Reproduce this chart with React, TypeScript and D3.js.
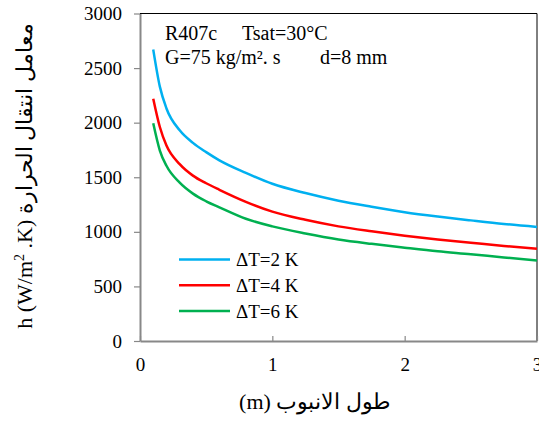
import { useEffect, useRef } from "react";
import * as d3 from "d3";

const lengths = [0.1, 0.15, 0.2, 0.3, 0.4, 0.5, 0.6, 0.8, 1.0, 1.25, 1.5, 1.75, 2.0, 2.25, 2.5, 2.75, 3.0];
const hDT2 = [2670, 2330, 2130, 1930, 1815, 1730, 1655, 1540, 1440, 1355, 1285, 1230, 1180, 1140, 1105, 1072, 1045];
const hDT4 = [2220, 1960, 1790, 1620, 1515, 1445, 1385, 1275, 1185, 1110, 1050, 1005, 965, 930, 900, 870, 845];
const hDT6 = [1995, 1745, 1605, 1450, 1350, 1280, 1225, 1120, 1050, 985, 930, 890, 855, 822, 795, 765, 738];
const seriesNames = ["ΔT=2 K", "ΔT=4 K", "ΔT=6 K"];
const seriesColors = ["#00B0F0", "#FF0000", "#00B050"];
const yTicks = [0, 500, 1000, 1500, 2000, 2500, 3000];
const xTicks = [0, 1, 2, 3];

const W = 539;
const H = 421;
const margin = { left: 140, right: 2, top: 13.5, bottom: 80 };
const font = "'Liberation Serif', 'Times New Roman', serif";

export default function App() {
  const svgRef = useRef<SVGSVGElement>(null);

  useEffect(() => {
    const svg = d3.select(svgRef.current);
    svg.selectAll("*").remove();

    const x = d3.scaleLinear().domain([0, 3]).range([margin.left, W - margin.right]);
    const y = d3.scaleLinear().domain([0, 3000]).range([H - margin.bottom, margin.top]);

    // frame top/right
    svg.append("path")
      .attr("d", `M${x(0)},${y(3000)}H${x(3)}V${y(0)}`)
      .attr("fill", "none")
      .attr("stroke", "#000")
      .attr("stroke-width", 1);

    const yAxis = svg.append("g")
      .attr("transform", `translate(${x(0)},0)`)
      .call(d3.axisLeft(y).tickValues(yTicks).tickSize(6).tickSizeOuter(0).tickPadding(12).tickFormat(d3.format("d")));
    yAxis.attr("font-family", null).attr("font-size", null);
    yAxis.select(".domain").attr("stroke", "#888").attr("stroke-width", 2);
    yAxis.selectAll(".tick line").attr("stroke", "#888").attr("stroke-width", 1.2);
    yAxis.selectAll("text").style("font-family", font).style("font-size", "19px").attr("fill", "#000");

    const xAxis = svg.append("g")
      .attr("transform", `translate(0,${y(0)})`)
      .call(d3.axisBottom(x).tickValues(xTicks).tickSize(-5).tickSizeOuter(0).tickPadding(17).tickFormat(d3.format("d")));
    xAxis.attr("font-family", null).attr("font-size", null);
    xAxis.select(".domain").attr("stroke", "#888").attr("stroke-width", 2);
    xAxis.selectAll(".tick line").attr("stroke", "#888").attr("stroke-width", 1.2);
    xAxis.selectAll("text").style("font-family", font).style("font-size", "19px").attr("fill", "#000");

    const line = d3.line<number>()
      .x((_, i) => x(lengths[i]))
      .y(d => y(d))
      .curve(d3.curveMonotoneX);

    [hDT2, hDT4, hDT6].forEach((vals, i) => {
      svg.append("path")
        .attr("d", line(vals))
        .attr("fill", "none")
        .attr("stroke", seriesColors[i])
        .attr("stroke-width", 2.5);
    });

    // legend
    const legend = svg.append("g").attr("transform", "translate(179,259.5)");
    seriesNames.forEach((name, i) => {
      const g = legend.append("g").attr("transform", `translate(0,${i * 25.7})`);
      g.append("line").attr("x1", 0).attr("x2", 51).attr("stroke", seriesColors[i]).attr("stroke-width", 2.5);
      g.append("text")
        .attr("x", 57)
        .attr("dy", "0.35em")
        .style("font-family", font)
        .style("font-size", "19px")
        .text(name);
    });

    // annotation
    const ann = [
      { t: "R407c", x: 165, y: 39.5 },
      { t: "Tsat=30°C", x: 242, y: 39.5 },
      { t: "G=75 kg/m². s", x: 165, y: 64 },
      { t: "d=8 mm", x: 320, y: 64 },
    ];
    ann.forEach(a => {
      svg.append("text")
        .attr("x", a.x)
        .attr("y", a.y)
        .style("font-family", font)
        .style("font-size", "20px")
        .text(a.t);
    });

    // axis titles
    svg.append("text")
      .attr("x", 315)
      .attr("y", 409)
      .attr("text-anchor", "middle")
      .style("font-family", font)
      .style("font-size", "22px")
      .text("(m) طول الانبوب");

    const yt = svg.append("text")
      .attr("transform", "translate(32,176) rotate(-90)")
      .attr("text-anchor", "middle")
      .style("font-family", font)
      .style("font-size", "22px");
    yt.append("tspan").text("h (W/m");
    yt.append("tspan").style("font-size", "14px").attr("dy", -8).text("2");
    yt.append("tspan").attr("dy", 8).text(" .K)  معامل انتقال الحرارة");
  }, []);

  return (
    <svg
      ref={svgRef}
      width={W}
      height={H}
      style={{ position: "absolute", left: 0, top: 0, background: "#fff" }}
    />
  );
}
